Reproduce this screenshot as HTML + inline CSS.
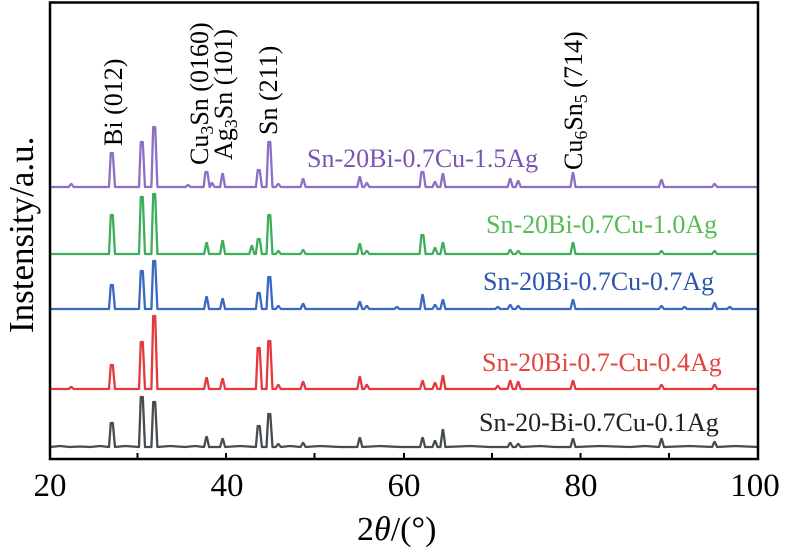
<!DOCTYPE html>
<html>
<head>
<meta charset="utf-8">
<style>
  html, body { margin:0; padding:0; background:#fff; }
  svg { display:block; }
  text { font-family: "Liberation Serif", "DejaVu Serif", serif; }
</style>
</head>
<body>
<svg width="787" height="553" viewBox="0 0 787 553" xmlns="http://www.w3.org/2000/svg">
  <rect width="787" height="553" fill="#fff"/>

  <g fill="none" stroke-width="2.3" stroke-linejoin="round">
    <!-- Purple 1.5Ag -->
    <path stroke="#8d6fc6" d="M50,187 L68.7,187 L70.9,184 L71.5,184 L73.7,187 L109,187 L110.8,153 L112.8,153 L115,187 L139,187 L140.8,142 L142.8,142 L145,187 L151.4,187 L153.2,127 L155.2,127 L157.4,187 L185.6,187 L187.8,185 L188.4,185 L190.6,187 L203.6,187 L205.4,172 L207.4,172 L209.6,187 L210,187 L211.7,183 L212.3,183 L214.5,187 L220.1,187 L222.3,174 L222.9,174 L225.1,187 L255.9,187 L257.7,170 L259.7,170 L261.9,187 L266.5,187 L268.3,142 L270.3,142 L272.5,187 L275.8,187 L278,184 L278.6,184 L280.8,187 L300.6,187 L302.8,179 L303.4,179 L305.6,187 L357.3,187 L359.5,177 L360.1,177 L362.3,187 L364.3,187 L366.5,183 L367.1,183 L369.3,187 L419.6,187 L421.4,172 L423.4,172 L425.6,187 L432.5,187 L434.7,182 L435.3,182 L437.5,187 L440.4,187 L442.6,174 L443.2,174 L445.4,187 L507.7,187 L509.9,179 L510.5,179 L512.7,187 L515.7,187 L517.9,181 L518.5,181 L520.7,187 L570.5,187 L572.7,173 L573.3,173 L575.5,187 L659,187 L661.2,180 L661.8,180 L664,187 L712.1,187 L714.3,184 L714.9,184 L717.1,187 L758,187"/>
    <!-- Green 1.0Ag -->
    <path stroke="#3eae5c" d="M50,254 L109,254 L110.8,215 L112.8,215 L115,254 L139,254 L140.8,197 L142.8,197 L145,254 L151.4,254 L153.2,194 L155.2,194 L157.4,254 L204.1,254 L206.3,243 L206.9,243 L209.1,254 L220.1,254 L222.3,241 L222.9,241 L225.1,254 L249.3,254 L251.5,246 L252.1,246 L254.3,254 L255.9,254 L257.7,239 L259.7,239 L261.9,254 L266.5,254 L268.3,215 L270.3,215 L272.5,254 L275.8,254 L278,251 L278.6,251 L280.8,254 L300.6,254 L302.8,250 L303.4,250 L305.6,254 L357.3,254 L359.5,244 L360.1,244 L362.3,254 L364.3,254 L366.5,251 L367.1,251 L369.3,254 L419.6,254 L421.4,235 L423.4,235 L425.6,254 L432.5,254 L434.7,248 L435.3,248 L437.5,254 L440.4,254 L442.6,243 L443.2,243 L445.4,254 L507.7,254 L509.9,250 L510.5,250 L512.7,254 L515.7,254 L517.9,251 L518.5,251 L520.7,254 L570.5,254 L572.7,243 L573.3,243 L575.5,254 L659,254 L661.2,251 L661.8,251 L664,254 L712.1,254 L714.3,251 L714.9,251 L717.1,254 L758,254"/>
    <!-- Blue 0.7Ag -->
    <path stroke="#3a68c2" d="M50,309 L109,309 L110.8,285 L112.8,285 L115,309 L139,309 L140.8,271 L142.8,271 L145,309 L151.4,309 L153.2,261 L155.2,261 L157.4,309 L204.1,309 L206.3,297 L206.9,297 L209.1,309 L220.1,309 L222.3,299 L222.9,299 L225.1,309 L255.9,309 L257.7,293 L259.7,293 L261.9,309 L266.5,309 L268.3,277 L270.3,277 L272.5,309 L275.8,309 L278,306 L278.6,306 L280.8,309 L300.6,309 L302.8,304 L303.4,304 L305.6,309 L357.3,309 L359.5,302 L360.1,302 L362.3,309 L364.3,309 L366.5,306 L367.1,306 L369.3,309 L394.4,309 L396.6,307 L397.2,307 L399.4,309 L420.1,309 L422.3,295 L422.9,295 L425.1,309 L432.5,309 L434.7,305 L435.3,305 L437.5,309 L440.4,309 L442.6,300 L443.2,300 L445.4,309 L495.3,309 L497.5,307 L498.1,307 L500.3,309 L507.7,309 L509.9,305 L510.5,305 L512.7,309 L515.7,309 L517.9,306 L518.5,306 L520.7,309 L570.5,309 L572.7,300 L573.3,300 L575.5,309 L659,309 L661.2,306 L661.8,306 L664,309 L682,309 L684.2,307 L684.8,307 L687,309 L712.1,309 L714.3,303 L714.9,303 L717.1,309 L727.2,309 L729.4,307 L730,307 L732.2,309 L758,309"/>
    <!-- Red 0.4Ag -->
    <path stroke="#e5393d" d="M50,389 L68.7,389 L70.9,387 L71.5,387 L73.7,389 L109,389 L110.8,365 L112.8,365 L115,389 L139,389 L140.8,342 L142.8,342 L145,389 L151.4,389 L153.2,316 L155.2,316 L157.4,389 L204.1,389 L206.3,378 L206.9,378 L209.1,389 L220.1,389 L222.3,379 L222.9,379 L225.1,389 L255.9,389 L257.7,348 L259.7,348 L261.9,389 L266.5,389 L268.3,341 L270.3,341 L272.5,389 L275.8,389 L278,385 L278.6,385 L280.8,389 L300.6,389 L302.8,382 L303.4,382 L305.6,389 L357.3,389 L359.5,377 L360.1,377 L362.3,389 L364.3,389 L366.5,385 L367.1,385 L369.3,389 L420.1,389 L422.3,381 L422.9,381 L425.1,389 L432.5,389 L434.7,383 L435.3,383 L437.5,389 L440.4,389 L442.6,376 L443.2,376 L445.4,389 L495.3,389 L497.5,386 L498.1,386 L500.3,389 L507.7,389 L509.9,381 L510.5,381 L512.7,389 L515.7,389 L517.9,382 L518.5,382 L520.7,389 L570.5,389 L572.7,381 L573.3,381 L575.5,389 L659,389 L661.2,385 L661.8,385 L664,389 L712.1,389 L714.3,385 L714.9,385 L717.1,389 L758,389"/>
    <!-- Black 0.1Ag -->
    <path stroke="#474c50" d="M50,447 L60,446 L70,447 L80,446.5 L90,447 L100,446 L109,447 L110.8,423 L112.8,423 L115,447 L125,446 L139,447 L140.8,397 L142.8,397 L145,447 L151.4,447 L153.2,402 L155.2,402 L157.4,447 L170,446 L185,447 L195,446 L204.1,447 L206.3,437 L206.9,437 L209.1,447 L220.1,447 L222.3,439 L222.9,439 L225.1,447 L240,446 L255.9,447 L257.7,426 L259.7,426 L261.9,447 L266.5,447 L268.3,414 L270.3,414 L272.5,447 L275.8,447 L278,444 L278.6,444 L280.8,447 L290,446 L300.6,447 L302.8,443 L303.4,443 L305.6,447 L320,446 L340,447 L357.3,447 L359.5,438 L360.1,438 L362.3,447 L380,446 L400,447 L420.1,447 L422.3,438 L422.9,438 L425.1,447 L432.5,447 L434.7,441 L435.3,441 L437.5,447 L440.4,447 L442.6,430 L443.2,430 L445.4,447 L470,446 L490,447 L507.7,447 L509.9,443 L510.5,443 L512.7,447 L515.7,447 L517.9,444 L518.5,444 L520.7,447 L540,446 L555,447 L570.5,447 L572.7,439 L573.3,439 L575.5,447 L600,446 L630,447 L645,446 L659,447 L661.2,439 L661.8,439 L664,447 L690,446 L712.1,447 L714.3,442 L714.9,442 L717.1,447 L735,446 L758,447"/>
  </g>

  <!-- Frame -->
  <rect x="50" y="2.5" width="708" height="456.5" fill="none" stroke="#000" stroke-width="2.5"/>
  <!-- Ticks -->
  <g stroke="#000" stroke-width="2">
    <line x1="137.5" y1="459" x2="137.5" y2="453"/>
    <line x1="226" y1="459" x2="226" y2="453"/>
    <line x1="314.5" y1="459" x2="314.5" y2="453"/>
    <line x1="404" y1="459" x2="404" y2="453"/>
    <line x1="492" y1="459" x2="492" y2="453"/>
    <line x1="580.5" y1="459" x2="580.5" y2="453"/>
    <line x1="669" y1="459" x2="669" y2="453"/>
  </g>

  <!-- Tick labels -->
  <g font-size="33" fill="#000" text-anchor="middle">
    <text x="50" y="496">20</text>
    <text x="227" y="496">40</text>
    <text x="404" y="496">60</text>
    <text x="581" y="496">80</text>
    <text x="755" y="496">100</text>
  </g>

  <!-- Axis titles -->
  <text x="357" y="540" font-size="34" fill="#000">2<tspan font-style="italic">θ</tspan>/(°)</text>
  <text transform="translate(33,333) rotate(-90)" font-size="35" fill="#000">Instensity/a.u.</text>

  <!-- Series labels -->
  <g font-size="26">
    <text x="307" y="167" fill="#7a56b4">Sn-20Bi-0.7Cu-1.5Ag</text>
    <text x="486" y="233" fill="#55bb55">Sn-20Bi-0.7Cu-1.0Ag</text>
    <text x="483" y="290" fill="#2d55b0">Sn-20Bi-0.7Cu-0.7Ag</text>
    <text x="482" y="371" fill="#e2453b">Sn-20Bi-0.7-Cu-0.4Ag</text>
    <text x="479" y="431" fill="#222">Sn-20-Bi-0.7Cu-0.1Ag</text>
  </g>

  <!-- Peak labels (rotated) -->
  <g font-size="26" fill="#000">
    <text transform="translate(122,146) rotate(-90)">Bi (012)</text>
    <text transform="translate(208,165) rotate(-90)">Cu<tspan font-size="18" dy="5">3</tspan><tspan dy="-5">Sn (0160)</tspan></text>
    <text transform="translate(232,160) rotate(-90)">Ag<tspan font-size="18" dy="5">3</tspan><tspan dy="-5">Sn (101)</tspan></text>
    <text transform="translate(277,135) rotate(-90)">Sn (211)</text>
    <text transform="translate(582,170) rotate(-90)">Cu<tspan font-size="18" dy="5">6</tspan><tspan dy="-5">Sn</tspan><tspan font-size="18" dy="5">5</tspan><tspan dy="-5"> (714)</tspan></text>
  </g>
</svg>
</body>
</html>
